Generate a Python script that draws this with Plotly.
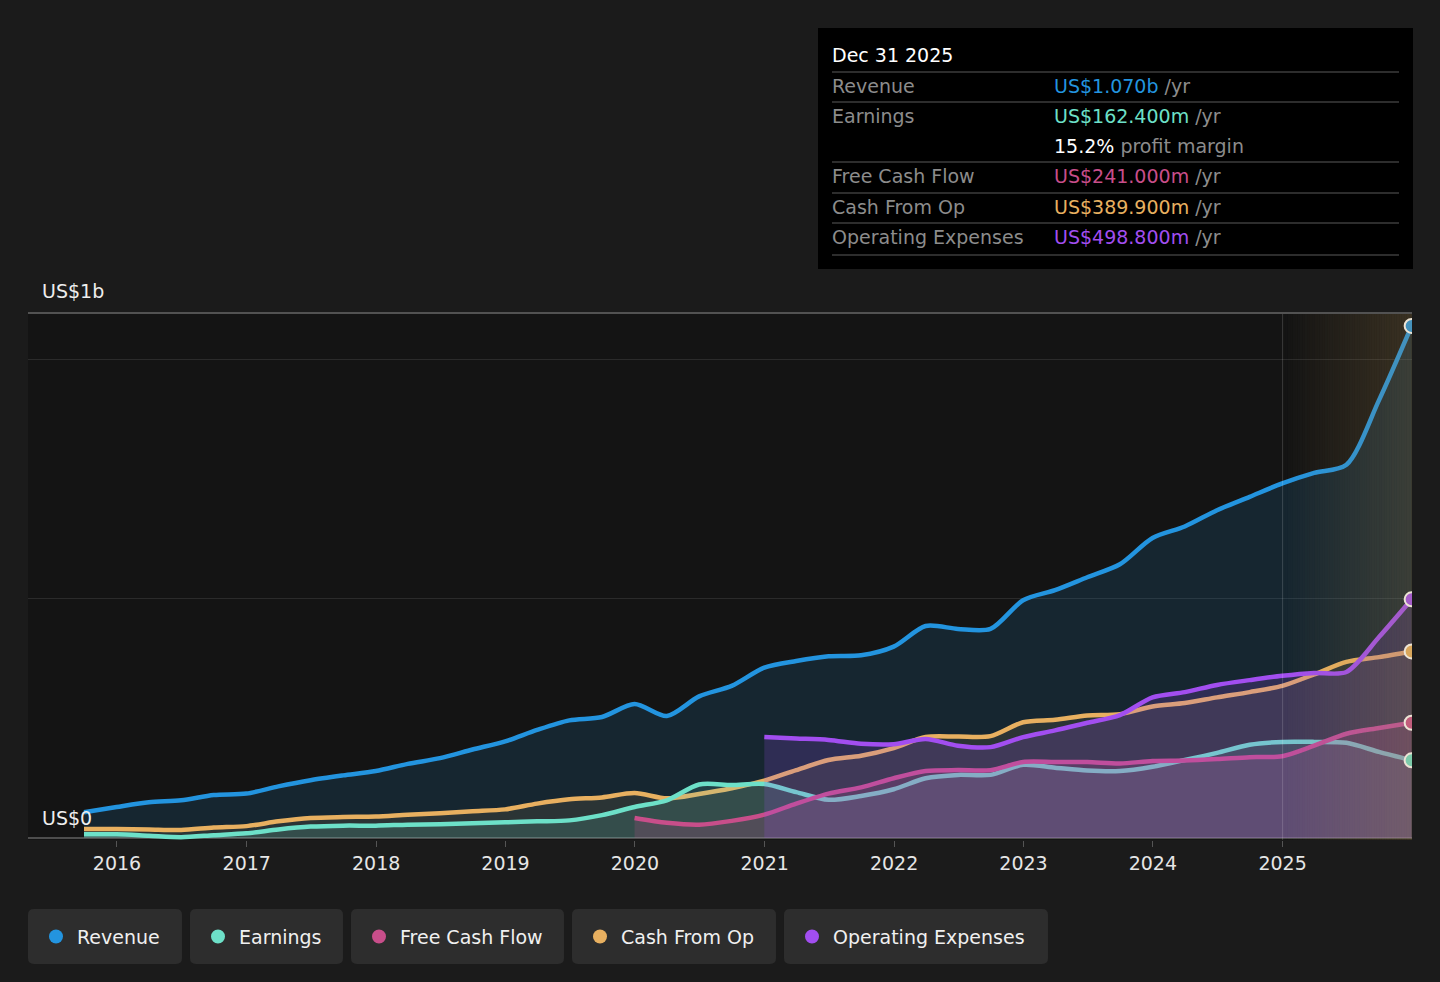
import datetime as dt
import plotly.graph_objects as go

# quarter ends, values in US$ millions (trailing twelve months)
quarters = [
    "2015-09-30", "2015-12-31",
    "2016-03-31", "2016-06-30", "2016-09-30", "2016-12-31",
    "2017-03-31", "2017-06-30", "2017-09-30", "2017-12-31",
    "2018-03-31", "2018-06-30", "2018-09-30", "2018-12-31",
    "2019-03-31", "2019-06-30", "2019-09-30", "2019-12-31",
    "2020-03-31", "2020-06-30", "2020-09-30", "2020-12-31",
    "2021-03-31", "2021-06-30", "2021-09-30", "2021-12-31",
    "2022-03-31", "2022-06-30", "2022-09-30", "2022-12-31",
    "2023-03-31", "2023-06-30", "2023-09-30", "2023-12-31",
    "2024-03-31", "2024-06-30", "2024-09-30", "2024-12-31",
    "2025-03-31", "2025-06-30", "2025-09-30", "2025-12-31",
]
revenue = [54, 65, 75, 79, 90, 93, 108, 121, 131, 140, 155, 167, 185, 202, 226, 246, 253, 280,
           255, 296, 318, 356, 370, 380, 382, 400, 443, 437, 437, 497, 518, 545, 572, 627,
           651, 685, 713, 741, 763, 780, 915, 1070]
earnings = [8, 8, 5, 2, 6, 10, 18, 24, 26, 26, 28, 29, 31, 33, 35, 37, 48, 65,
            79, 112, 111, 113, 96, 80, 88, 102, 125, 132, 132, 153, 147, 141, 140, 149,
            163, 178, 195, 201, 201, 199, 180, 162.4]
cash_from_op = [19, 19, 18, 17, 22, 25, 35, 42, 44, 45, 49, 52, 56, 60, 72, 81, 85, 94,
                83, 92, 104, 120, 142, 163, 172, 188, 211, 212, 213, 242, 247, 256, 259, 275,
                282, 294, 305, 318, 342, 368, 378, 389.9]
fcf_quarters = quarters[17:]
free_cash_flow = [42, 32, 28, 36, 49, 72, 93, 106, 125, 140, 142, 142, 159, 159, 159, 156,
                  161, 162, 165, 169, 171, 193, 218, 230, 241]
opex_quarters = quarters[21:]
operating_expenses = [211, 208, 205, 197, 196, 207, 193, 190, 211, 225, 241, 257, 294, 305,
                      320, 330, 339, 345, 347, 420, 498.8]

year_ticks = [f"{y}-01-01" for y in range(2016, 2026)]
year_labels = [str(y) for y in range(2016, 2026)]

C_REV = "#2394df"
C_EARN = "#6de0c8"
C_FCF = "#c84e8a"
C_CFO = "#e8b060"
C_OPEX = "#a24ef0"

FONT = "DejaVu Sans"
W, H = 1440, 982
L, R, T, B = 28, 28, 313, 142
PW, PH = W - L - R, H - T - B


def fx(px):
    return (px - L) / PW


def fy(py):
    return (H - B - py) / PH


def rgba(hex_color, a):
    h = hex_color.lstrip("#")
    return f"rgba({int(h[0:2], 16)},{int(h[2:4], 16)},{int(h[4:6], 16)},{a})"


def rounded_box(x0, y0, x1, y1, r):
    pts = [
        ("M", x0 + r, y0), ("L", x1 - r, y0), ("Q", x1, y0, x1, y0 + r),
        ("L", x1, y1 - r), ("Q", x1, y1, x1 - r, y1), ("L", x0 + r, y1),
        ("Q", x0, y1, x0, y1 - r), ("L", x0, y0 + r), ("Q", x0, y0, x0 + r, y0),
    ]
    path = ""
    for p in pts:
        cmd, coords = p[0], p[1:]
        xy = []
        for i in range(0, len(coords), 2):
            xy.append(f"{fx(coords[i]):.5f},{fy(coords[i + 1]):.5f}")
        path += cmd + " ".join(xy) + " "
    return path + "Z"


series = [
    ("Revenue", quarters, revenue, C_REV, 0.14),
    ("Cash From Op", quarters, cash_from_op, C_CFO, 0.10),
    ("Earnings", quarters, earnings, C_EARN, 0.15),
    ("Free Cash Flow", fcf_quarters, free_cash_flow, C_FCF, 0.20),
    ("Operating Expenses", opex_quarters, operating_expenses, C_OPEX, 0.19),
]

fig = go.Figure()
for name, xs, ys, col, a in series:
    fig.add_trace(go.Scatter(
        x=xs, y=ys, name=name, mode="lines", fill="tozeroy", fillcolor=rgba(col, a),
        line=dict(color=col, width=4.5, shape="spline", smoothing=0.8),
        hoverinfo="skip"))
for name, xs, ys, col, a in series:
    fig.add_trace(go.Scatter(
        x=[xs[-1]], y=[ys[-1]], mode="markers", hoverinfo="skip",
        marker=dict(size=14, color=col, line=dict(color="white", width=2))))

shapes = []
# forecast shading (gradient made of thin strips)
start, end = dt.date(2025, 1, 1), dt.date(2026, 1, 1)
n = 52
span = (end - start).days
for i in range(n):
    a0 = start + dt.timedelta(days=span * i / n)
    a1 = start + dt.timedelta(days=span * (i + 1) / n)
    shapes.append(dict(type="rect", xref="x", yref="paper", x0=a0.isoformat(), x1=a1.isoformat(),
                       y0=0, y1=1, line=dict(width=0), layer="above",
                       fillcolor=f"rgba(175,140,80,{0.25 * (i + 0.5) / n:.4f})"))
shapes.append(dict(type="line", xref="x", yref="paper", x0="2025-01-01", x1="2025-01-01",
                   y0=0, y1=1, line=dict(color="rgba(255,255,255,0.16)", width=1), layer="above"))
shapes.append(dict(type="line", xref="paper", yref="paper", x0=0, x1=1, y0=1, y1=1,
                   line=dict(color="#525252", width=2)))

# tooltip box
shapes.append(dict(type="rect", xref="paper", yref="paper", x0=fx(818), x1=fx(1413),
                   y0=fy(269), y1=fy(28), fillcolor="#000000", line=dict(width=0)))
for py in [72, 102, 162, 193, 223, 255]:
    shapes.append(dict(type="line", xref="paper", yref="paper", x0=fx(832), x1=fx(1399),
                       y0=fy(py), y1=fy(py), line=dict(color="#3c3c3c", width=1.5)))


def note(text, px, py, size, color):
    # annotations carry ~2px of inner padding
    return dict(text=text, x=fx(px - 2), y=fy(py), xref="paper", yref="paper", xanchor="left",
                yanchor="middle", showarrow=False, font=dict(family=FONT, size=size, color=color))


annotations = [
    note("US$1b", 42, 291, 19, "#eeeeee"),
    note("US$0", 42, 818, 19, "#eeeeee"),
]

margin_pct = earnings[-1] / revenue[-1] * 100
tip_rows = [
    ("Revenue", f"<span style='color:{C_REV}'>US${revenue[-1] / 1000:.3f}b</span> /yr", 86),
    ("Earnings", f"<span style='color:{C_EARN}'>US${earnings[-1]:.3f}m</span> /yr", 116),
    ("", f"<span style='color:#ffffff'>{margin_pct:.1f}%</span> profit margin", 146),
    ("Free Cash Flow", f"<span style='color:{C_FCF}'>US${free_cash_flow[-1]:.3f}m</span> /yr", 176),
    ("Cash From Op", f"<span style='color:{C_CFO}'>US${cash_from_op[-1]:.3f}m</span> /yr", 207),
    ("Operating Expenses", f"<span style='color:{C_OPEX}'>US${operating_expenses[-1]:.3f}m</span> /yr", 237),
]
annotations.append(note("Dec 31 2025", 832, 55, 19, "#ffffff"))
for label, value, py in tip_rows:
    if label:
        annotations.append(note(label, 832, py, 19, "#8c8c8c"))
    annotations.append(note(value, 1054, py, 19, "#8c8c8c"))

# legend chips
legend_items = [("Revenue", C_REV), ("Earnings", C_EARN), ("Free Cash Flow", C_FCF),
                ("Cash From Op", C_CFO), ("Operating Expenses", C_OPEX)]
chip_edges = [(28, 182), (190, 343), (351, 564), (572, 776), (784, 1048)]
for (label, col), (x0, x1) in zip(legend_items, chip_edges):
    shapes.append(dict(type="path", xref="paper", yref="paper", path=rounded_box(x0, 909, x1, 964, 6),
                       fillcolor="#2d2d2d", line=dict(width=0)))
    cx, cy = x0 + 28, 936.5
    shapes.append(dict(type="circle", xref="paper", yref="paper", x0=fx(cx - 7), x1=fx(cx + 7),
                       y0=fy(cy + 7), y1=fy(cy - 7), fillcolor=col, line=dict(width=0)))
    annotations.append(note(label, x0 + 49, cy, 19, "#f0f0f0"))

fig.update_layout(
    width=W, height=H, margin=dict(l=L, r=R, t=T, b=B, pad=0),
    paper_bgcolor="#1b1b1b", plot_bgcolor="#141414", showlegend=False,
    font=dict(family=FONT, color="#e6e6e6"),
    shapes=shapes, annotations=annotations,
    xaxis=dict(type="date", range=["2015-04-25", "2026-01-01"], tickvals=year_ticks,
               ticktext=year_labels, ticks="outside", ticklen=6, tickcolor="#555555",
               showgrid=False, zeroline=False, showline=False, fixedrange=True,
               tickfont=dict(family=FONT, size=19, color="#e6e6e6")),
    yaxis=dict(range=[-4, 1097], tickvals=[0, 500, 1000], showticklabels=False,
               gridcolor="#2b2b2b", gridwidth=1, zeroline=True, zerolinecolor="#4d4d4d",
               zerolinewidth=2, fixedrange=True),
)

fig.write_html("out.html", config={"displayModeBar": False},
               post_script="document.body.style.margin='0';document.body.style.background='#1b1b1b';")
